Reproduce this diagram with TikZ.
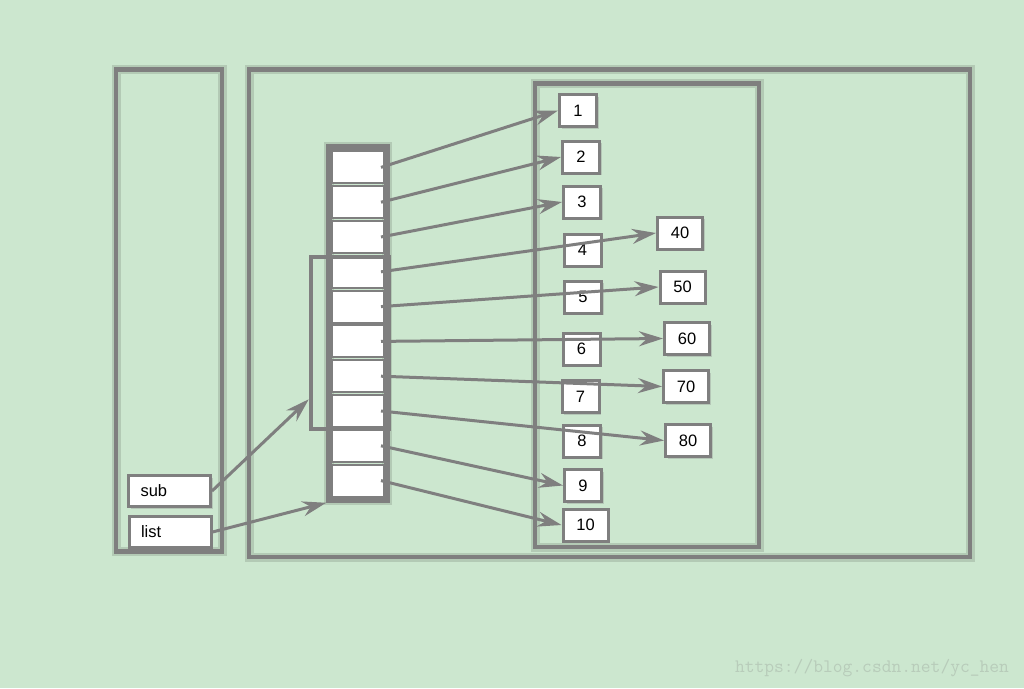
\documentclass[tikz,border=0pt]{standalone}
\usepackage{fontspec}
\setmainfont{Liberation Sans}
\usetikzlibrary{arrows.meta,shadows}
\definecolor{bggreen}{RGB}{204,231,207}
\definecolor{linegray}{RGB}{127,127,127}
\definecolor{wmgray}{RGB}{184,204,186}

\begin{document}
\begin{tikzpicture}[
  x=1pt,y=-1pt,
  every node/.style={font=\fontsize{16.5}{19}\selectfont},
  boxframe/.style={draw=linegray, line width=4.5pt, preaction={draw=black, opacity=.12, line width=9pt}},
  cell/.style={draw=linegray, fill=white, line width=2pt, minimum width=52pt, minimum height=32pt, inner sep=0pt},
  val/.style={draw=linegray, fill=white, line width=3pt, minimum width=37pt, minimum height=32pt, inner sep=0pt,
    drop shadow={shadow xshift=2pt, shadow yshift=-2pt, opacity=.3}},
  wide/.style={val, minimum width=45pt},
  var/.style={val, text width=58pt, inner xsep=12pt, align=left, minimum height=31pt},
  arrow/.style={draw=linegray, line width=3pt, -{Stealth[length=24pt, width=15pt, inset=8pt]}}
]
\fill[bggreen] (0,0) rectangle (1024,688);
\useasboundingbox (0,0) rectangle (1024,688);

% frames
\draw[boxframe] (116,69.5) rectangle (222,551.5);
\draw[boxframe] (249,69.5) rectangle (970,557);
\draw[boxframe] (535,83.5) rectangle (759,547);

% the list and its cells
\node[draw=linegray, line width=5.5pt, minimum width=58pt, minimum height=353pt, inner sep=0pt,
  preaction={draw=black, opacity=.12, line width=10pt}] (arr) at (358,323.5) {};
\foreach \i in {1,...,10}
  \node[cell] (c\i) at (358,{167.4+34.8*(\i-1)}) {};
\node[draw=linegray, line width=4pt, minimum width=78.5pt, minimum height=172pt, inner sep=0pt] (subl) at (350,342.5) {};

% values
\node[val] (v1) at (578,110.5) {1};
\node[val] (v2) at (581,157) {2};
\node[val] (v3) at (582,202) {3};
\node[val] (v4) at (582.5,250) {4};
\node[val] (v5) at (583,297) {5};
\node[val] (v6) at (581.5,349) {6};
\node[val] (v7) at (580.5,396.5) {7};
\node[val] (v8) at (582,441) {8};
\node[val] (v9) at (583,485.5) {9};
\node[wide] (v10) at (585.5,525) {10};
\node[wide] (v40) at (680,233) {40};
\node[wide] (v50) at (682.5,287) {50};
\node[wide] (v60) at (687,338.5) {60};
\node[wide] (v70) at (686,386.5) {70};
\node[wide] (v80) at (688,440.5) {80};

% names
\node[var] (sub) at (169.5,491) {sub};
\node[var] (list) at (170,532) {list};

% references
\draw[arrow] ([xshift=-4pt]c1.east) -- (v1.west);
\draw[arrow] ([xshift=-4pt]c2.east) -- (v2.west);
\draw[arrow] ([xshift=-4pt]c3.east) -- (v3.west);
\draw[arrow] ([xshift=-4pt]c4.east) -- (v40.west);
\draw[arrow] ([xshift=-4pt]c5.east) -- (v50.west);
\draw[arrow] ([xshift=-4pt]c6.east) -- (v60.west);
\draw[arrow] ([xshift=-4pt]c7.east) -- (v70.west);
\draw[arrow] ([xshift=-4pt]c8.east) -- (v80.west);
\draw[arrow] ([xshift=-4pt]c9.east) -- (v9.west);
\draw[arrow] ([xshift=-4pt]c10.east) -- (v10.west);
\draw[arrow] (sub.east) -- (subl.234);
\draw[arrow] (list.east) -- (arr.south west);

\node[text=wmgray, font=\ttfamily\fontsize{19}{22}\selectfont] (wm) at (872,668) {https://blog.csdn.net/yc\_hen};
\end{tikzpicture}
\end{document}
